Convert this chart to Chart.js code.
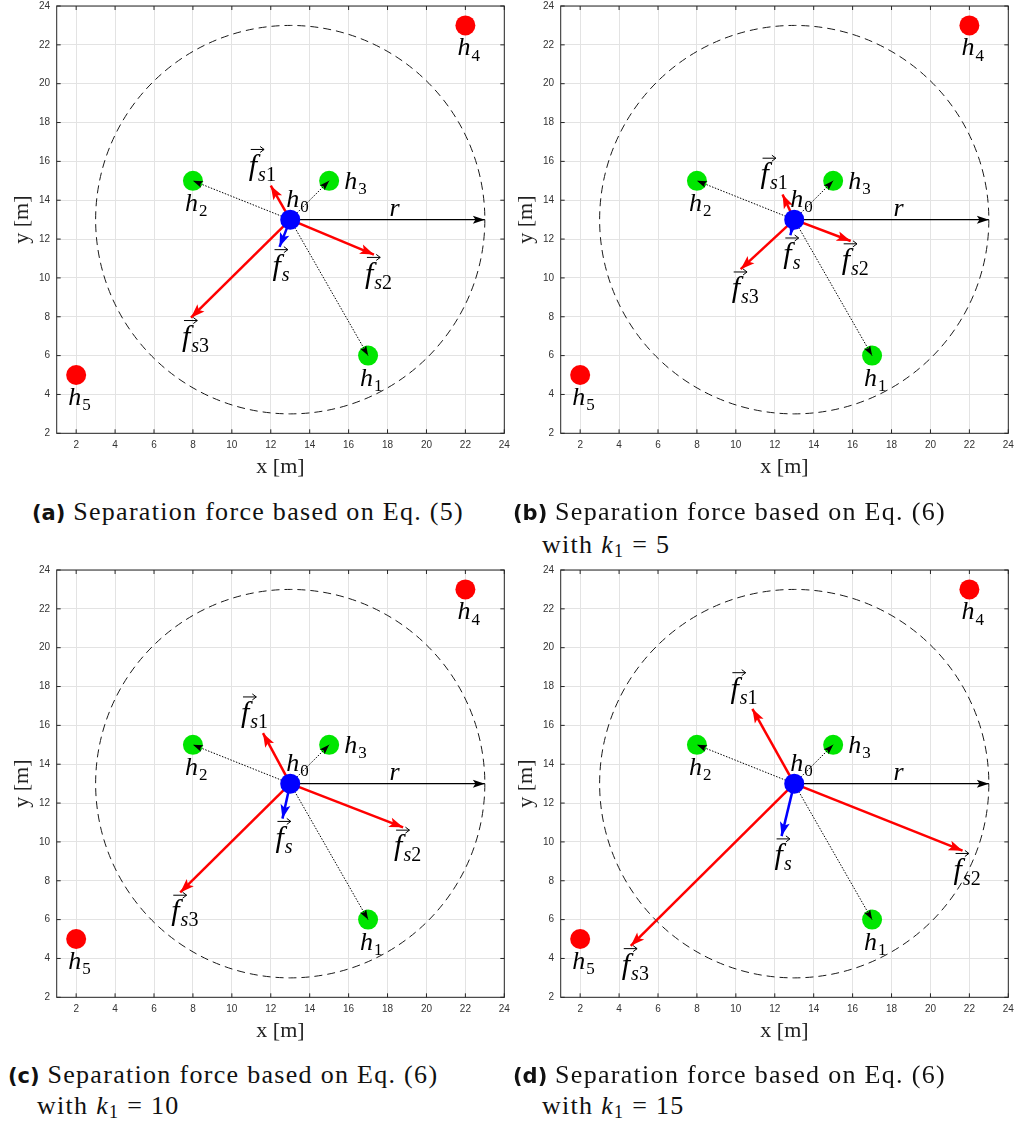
<!DOCTYPE html>
<html>
<head>
<meta charset="utf-8">
<script src="https://cdn.jsdelivr.net/npm/chart.js@4.4.1/dist/chart.umd.min.js"></script>
<style>
body { margin: 0; background: #fff; }
#fig { position: relative; width: 1018px; height: 1126px; overflow: hidden; }
.panel { position: absolute; }
.cap { position: absolute; font-family: "Liberation Serif", serif; font-size: 26px; line-height: 30px; color: #111; white-space: nowrap; letter-spacing: 1.3px; }
.cap b { font-family: "DejaVu Sans", sans-serif; font-size: 21px; letter-spacing: 0; }
.cap sub { font-size: 18px; font-style: normal; vertical-align: -4px; line-height: 0; }
</style>
</head>
<body>
<div id="fig"></div>
<script>
// axis setup
const tickVals = [2, 4, 6, 8, 10, 12, 14, 16, 18, 20, 22, 24]
const xMin = 1, xMax = 24, yMin = 2, yMax = 24

// agents: h0 (blue), h1..h3 neighbours (green), h4, h5 outside (red)
const hNames = ['0', '1', '2', '3', '4', '5']
const hX = [13, 17, 8, 15, 22, 2]
const hY = [13, 6, 15, 15, 23, 5]
const sensingR = 10

// arrow tips of the separation forces, one value per panel (a)..(d)
const fs1X = [12.0, 12.4, 11.6, 10.85]
const fs1Y = [14.75, 14.3, 15.6, 16.85]
const fs2X = [17.3, 15.9, 18.8, 21.65]
const fs2Y = [11.2, 11.9, 10.75, 9.55]
const fs3X = [7.9, 10.25, 7.35, 4.6]
const fs3Y = [7.95, 10.45, 7.4, 4.65]
const fsX = [12.45, 12.8, 12.6, 12.35]
const fsY = [11.6, 12.2, 11.2, 10.3]

// captions
const panelTags = ['(a)', '(b)', '(c)', '(d)']
const eqNums = ['5', '6', '6', '6']
const k1Vals = [null, 5, 10, 15]

const SERIF = '"Liberation Serif", serif'

function drawHead(ctx, x0, y0, x1, y1, color, head) {
    const [len, half] = head
    const ang = Math.atan2(y1 - y0, x1 - x0)
    ctx.save()
    ctx.translate(x1, y1)
    ctx.rotate(ang)
    ctx.fillStyle = color
    ctx.beginPath()
    ctx.moveTo(0, 0)
    ctx.lineTo(-len, half)
    ctx.lineTo(-len * 0.78, 0)
    ctx.lineTo(-len, -half)
    ctx.closePath()
    ctx.fill()
    ctx.restore()
}

// italic base letter + subscript parts [text, italic], optional vector arrow
function drawMath(ctx, px, py, base, subs, vec, size) {
    ctx.save()
    ctx.fillStyle = '#000'
    ctx.textBaseline = 'alphabetic'
    ctx.textAlign = 'left'
    ctx.font = `italic ${size}px ${SERIF}`
    ctx.fillText(base, px, py)
    const w = ctx.measureText(base).width
    let sx = px + w + 1
    const ss = Math.round(size * 0.66)
    subs.forEach(([t, it]) => {
        ctx.font = `${it ? 'italic ' : ''}${ss}px ${SERIF}`
        ctx.fillText(t, sx, py + size * 0.2)
        sx += ctx.measureText(t).width
    })
    if (vec) {
        const ay = py - size * 0.84
        const ax0 = px + 2, ax1 = px + w + 7
        ctx.strokeStyle = '#000'
        ctx.lineWidth = 1
        ctx.beginPath()
        ctx.moveTo(ax0, ay)
        ctx.lineTo(ax1, ay)
        ctx.moveTo(ax1 - 4, ay - 3)
        ctx.lineTo(ax1, ay)
        ctx.lineTo(ax1 - 4, ay + 3)
        ctx.stroke()
    }
    ctx.restore()
}

const figPlugin = {
    id: 'fig',
    beforeDatasetsDraw(chart) {
        const {ctx, scales: {x, y}} = chart
        const cx = x.getPixelForValue(hX[0]), cy = y.getPixelForValue(hY[0])
        const rx = x.getPixelForValue(hX[0] + sensingR) - cx
        const ry = cy - y.getPixelForValue(hY[0] + sensingR)
        ctx.save()
        ctx.strokeStyle = '#1a1a1a'
        ctx.lineWidth = 1
        ctx.setLineDash([8, 5])
        ctx.beginPath()
        ctx.ellipse(cx, cy, rx, ry, 0, 0, Math.PI * 2)
        ctx.stroke()
        ctx.restore()
    },
    afterDatasetDraw(chart, args) {
        const ds = chart.data.datasets[args.index]
        if (!ds.head) return
        const pts = args.meta.data
        drawHead(chart.ctx, pts[0].x, pts[0].y, pts[1].x, pts[1].y, ds.borderColor, ds.head)
    },
    afterDraw(chart) {
        const {ctx, chartArea: {left, right, top, bottom}, scales: {x, y}} = chart
        const i = chart.options.plugins.fig.panel
        // box + inward ticks
        ctx.save()
        ctx.strokeStyle = '#262626'
        ctx.lineWidth = 1
        ctx.strokeRect(left, top, right - left, bottom - top)
        ctx.beginPath()
        tickVals.forEach(v => {
            const px = x.getPixelForValue(v)
            ctx.moveTo(px, bottom); ctx.lineTo(px, bottom - 4)
            ctx.moveTo(px, top); ctx.lineTo(px, top + 4)
            const py = y.getPixelForValue(v)
            ctx.moveTo(left, py); ctx.lineTo(left + 4, py)
            ctx.moveTo(right, py); ctx.lineTo(right - 4, py)
        })
        ctx.stroke()
        ctx.restore()

        // agent labels
        hNames.forEach((n, k) => {
            const px = x.getPixelForValue(hX[k]), py = y.getPixelForValue(hY[k])
            let dx = -8, dy = 30
            if (k == 0) { dx = -4; dy = -13 }
            if (k == 3) { dx = 15; dy = 8 }
            drawMath(ctx, px + dx, py + dy, 'h', [[n, false]], false, 26)
        })

        // r label
        const rMid = (x.getPixelForValue(hX[0]) + x.getPixelForValue(hX[0] + sensingR)) / 2
        drawMath(ctx, rMid + 2, y.getPixelForValue(hY[0]) - 4, 'r', [], false, 26)

        // force labels
        const fl = [
            [fs1X[i], fs1Y[i], [['s', true], ['1', false]], -22, -11],
            [fs2X[i], fs2Y[i], [['s', true], ['2', false]], -9, 28],
            [fs3X[i], fs3Y[i], [['s', true], ['3', false]], -9, 28],
            [fsX[i], fsY[i], [['s', true]], -7, 28],
        ]
        fl.forEach(([vx, vy, sub, dx, dy]) => {
            drawMath(ctx, x.getPixelForValue(vx) + dx, y.getPixelForValue(vy) + dy, 'f', sub, true, 30)
        })
    }
}

function makeDatasets(i) {
    const c = {x: hX[0], y: hY[0]}
    const arrow = (tx, ty, color, width, dash, head) => ({
        type: 'line', data: [c, {x: tx, y: ty}], borderColor: color, borderWidth: width,
        borderDash: dash, pointRadius: 0, fill: false, head: head, order: 1
    })
    return [
        {type: 'scatter', data: [c], backgroundColor: '#0000ff', pointRadius: 10, borderWidth: 0, order: 0},
        arrow(hX[1], hY[1], '#000', 1, [1.5, 1.5], [10, 3.5]),
        arrow(hX[2], hY[2], '#000', 1, [1.5, 1.5], [10, 3.5]),
        arrow(hX[3], hY[3], '#000', 1, [1.5, 1.5], [10, 3.5]),
        arrow(hX[0] + sensingR, hY[0], '#000', 1.2, [], [12, 4]),
        arrow(fs1X[i], fs1Y[i], '#ff0000', 2.5, [], [14, 5]),
        arrow(fs2X[i], fs2Y[i], '#ff0000', 2.5, [], [14, 5]),
        arrow(fs3X[i], fs3Y[i], '#ff0000', 2.5, [], [14, 5]),
        arrow(fsX[i], fsY[i], '#0000ff', 2.5, [], [14, 5]),
        {type: 'scatter', data: [1, 2, 3].map(k => ({x: hX[k], y: hY[k]})), backgroundColor: '#00e600', pointRadius: 10, borderWidth: 0, order: 2},
        {type: 'scatter', data: [4, 5].map(k => ({x: hX[k], y: hY[k]})), backgroundColor: '#ff0000', pointRadius: 10, borderWidth: 0, order: 2},
    ]
}

const W = 514, H = 490
const fig = document.getElementById('fig')

panelTags.forEach((tag, i) => {
    const col = i % 2, row = Math.floor(i / 2)
    const div = document.createElement('div')
    div.className = 'panel'
    div.style.left = (504 * col) + 'px'
    div.style.top = (564 * row) + 'px'
    const canvas = document.createElement('canvas')
    canvas.width = W
    canvas.height = H
    div.appendChild(canvas)
    fig.appendChild(div)

    const tickFont = {family: '"Liberation Sans", Arial, sans-serif', size: 10}
    const titleFont = {family: SERIF, size: 22}
    new Chart(canvas, {
        type: 'scatter',
        data: {datasets: makeDatasets(i)},
        options: {
            responsive: false,
            animation: false,
            events: [],
            layout: {autoPadding: false, padding: {left: 0, top: 6, right: W - 504.3, bottom: 0}},
            plugins: {legend: {display: false}, tooltip: {enabled: false}, fig: {panel: i}},
            scales: {
                x: {
                    type: 'linear', min: xMin, max: xMax,
                    afterBuildTicks: s => { s.ticks = tickVals.map(v => ({value: v})) },
                    afterFit: s => { s.height = 56.7; s.paddingLeft = 0; s.paddingRight = 0 },
                    grid: {color: '#e3e3e3', drawTicks: false},
                    border: {display: false},
                    ticks: {font: tickFont, color: '#333', padding: 6, maxRotation: 0},
                    title: {display: true, text: 'x [m]', font: titleFont, color: '#222', padding: {top: 0, bottom: 9.8}}
                },
                y: {
                    type: 'linear', min: yMin, max: yMax,
                    afterBuildTicks: s => { s.ticks = tickVals.map(v => ({value: v})) },
                    afterFit: s => { s.width = 56.7; s.paddingTop = 0; s.paddingBottom = 0 },
                    grid: {color: '#e3e3e3', drawTicks: false},
                    border: {display: false},
                    ticks: {font: tickFont, color: '#333', padding: 6.7},
                    title: {display: true, text: 'y [m]', font: titleFont, color: '#222', padding: {top: 8.8, bottom: 0}}
                }
            }
        },
        plugins: [figPlugin]
    })

    // caption
    const c1 = document.createElement('div')
    c1.className = 'cap'
    c1.style.left = (col ? 513 : (row ? 8 : 32)) + 'px'
    c1.style.top = (row ? 1060 : 497) + 'px'
    c1.innerHTML = `<b>${tag}</b> Separation force based on Eq. (${eqNums[i]})`
    fig.appendChild(c1)
    if (k1Vals[i] !== null) {
        const c2 = document.createElement('div')
        c2.className = 'cap'
        c2.style.left = (col ? 542 : 37) + 'px'
        c2.style.top = (row ? 1091 : 530) + 'px'
        c2.innerHTML = `with <i>k</i><sub>1</sub> = ${k1Vals[i]}`
        fig.appendChild(c2)
    }
})
</script>
</body>
</html>
